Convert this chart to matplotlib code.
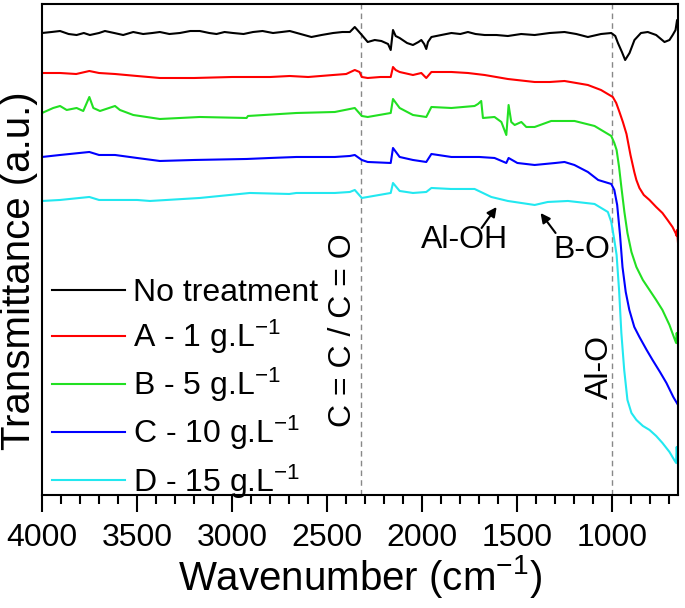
import matplotlib
matplotlib.use("Agg")
import matplotlib.pyplot as plt

plt.rcParams['font.family'] = ['Liberation Sans', 'DejaVu Sans']
plt.rcParams['mathtext.fontset'] = 'custom'
plt.rcParams['mathtext.rm'] = 'Liberation Sans'
plt.rcParams['mathtext.it'] = 'Liberation Sans:italic'

# FTIR spectra (offset, arbitrary units)
wn_none = [4000, 3950, 3905, 3860, 3818, 3780, 3748, 3700, 3669, 3620, 3573, 3520, 3468, 3420, 3380,
           3330, 3275, 3220, 3170, 3120, 3082, 3040, 2995, 2940, 2890, 2840, 2785, 2740, 2697, 2640,
           2583, 2530, 2469, 2420, 2381, 2355, 2318, 2287, 2250, 2215, 2180, 2166, 2160, 2154, 2140,
           2119, 2080, 2049, 2020, 2005, 1990, 1979, 1970, 1952, 1900, 1847, 1800, 1760, 1720, 1672,
           1610, 1550, 1480, 1409, 1330, 1252, 1190, 1129, 1060, 1006, 985, 971, 950, 933, 910,
           884, 850, 814, 770, 726, 700, 683, 668, 660, 655]
t_none = [462, 463, 464, 461, 460, 462, 460, 462, 464, 462, 460, 463, 461, 462, 463,
          461, 462, 464, 464, 462, 461, 463, 462, 461, 463, 464, 462, 463, 464, 461,
          458, 460, 462, 463, 463, 468, 460, 453, 455, 454, 451, 445, 455, 465, 459,
          457, 452, 450, 453, 455, 451, 446, 453, 458, 460, 462, 461, 463, 461, 460,
          460, 459, 461, 460, 462, 463, 461, 458, 461, 462, 459, 452, 443, 435, 442,
          455, 462, 463, 460, 453, 455, 460, 465, 475, 470]

wn_a = [4000, 3905, 3820, 3751, 3700, 3616, 3500, 3380, 3200, 3000, 2800, 2697, 2600, 2469, 2400,
        2355, 2330, 2318, 2287, 2220, 2166, 2154, 2140, 2119, 2049, 2005, 1979, 1952, 1847, 1760,
        1672, 1550, 1409, 1330, 1252, 1190, 1129, 1060, 998, 980, 963, 945, 926, 905, 885,
        874, 858, 835, 805, 770, 737, 710, 684, 668, 662, 660, 655]
t_a = [422, 422, 421, 424, 422, 421, 419, 417, 417, 418, 418, 419, 418, 420, 421,
       425, 423, 418, 417, 418, 418, 428, 425, 423, 420, 422, 417, 423, 423, 422,
       420, 416, 413, 413, 414, 412, 410, 405, 398, 392, 383, 373, 361, 340, 323,
       315, 307, 300, 295, 288, 282, 275, 268, 262, 259, 265, 252]

wn_b = [4000, 3941, 3905, 3870, 3818, 3783, 3751, 3730, 3695, 3616, 3590, 3520, 3380, 3170, 2924,
        2917, 2662, 2460, 2381, 2355, 2318, 2287, 2166, 2154, 2119, 2049, 1979, 1952, 1847, 1725,
        1707, 1690, 1681, 1620, 1584, 1558, 1546, 1532, 1514, 1479, 1453, 1409, 1322, 1199, 1094,
        1006, 990, 978, 965, 953, 937, 921, 900, 874, 840, 805, 770, 737, 700, 675,
        665, 662, 658, 655]
t_b = [382, 387, 389, 385, 387, 384, 398, 387, 384, 389, 385, 380, 376, 378, 377,
       379, 382, 383, 386, 387, 379, 378, 382, 396, 387, 380, 378, 388, 387, 389,
       391, 394, 377, 378, 373, 360, 390, 373, 370, 373, 368, 368, 374, 374, 369,
       359, 352, 345, 328, 308, 283, 262, 243, 228, 215, 205, 195, 185, 170, 157,
       152, 162, 155, 150]

wn_c = [4000, 3905, 3751, 3700, 3616, 3500, 3380, 3200, 2924, 2800, 2662, 2460, 2381, 2355, 2318,
        2287, 2166, 2154, 2119, 2049, 1979, 1952, 1847, 1700, 1620, 1558, 1546, 1500, 1409, 1300,
        1252, 1200, 1129, 1075, 1006, 990, 975, 960, 947, 930, 911, 885, 858, 820, 789,
        750, 716, 680, 655]
t_c = [338, 340, 343, 340, 340, 337, 334, 335, 336, 337, 338, 338, 339, 340, 335,
       333, 332, 347, 338, 335, 333, 341, 338, 338, 337, 332, 337, 332, 330, 332,
       333, 330, 323, 315, 311, 305, 290, 260, 228, 203, 185, 168, 158, 145, 135,
       123, 112, 98, 90]

wn_d = [4000, 3905, 3751, 3700, 3500, 3432, 3170, 2907, 2700, 2662, 2460, 2381, 2355, 2318, 2287,
        2166, 2154, 2119, 2049, 1979, 1952, 1850, 1725, 1637, 1550, 1409, 1340, 1234, 1094, 1024,
        1006, 990, 978, 965, 953, 938, 921, 900, 874, 840, 805, 770, 737, 700, 675,
        665, 662, 658, 655]
t_d = [294, 295, 298, 295, 295, 294, 297, 302, 301, 302, 302, 303, 305, 297, 298,
       302, 312, 304, 302, 303, 307, 306, 306, 298, 294, 290, 293, 294, 291, 283,
       273, 255, 240, 205, 162, 125, 95, 82, 75, 69, 65, 59, 52, 43, 35,
       32, 48, 37, 30]

labels = ['No treatment', 'A - 1 g.L$^{-1}$', 'B - 5 g.L$^{-1}$',
          'C - 10 g.L$^{-1}$', 'D - 15 g.L$^{-1}$']
colors = ['black', '#ff0000', '#22e022', '#0000ff', '#22e8f0']
bands = [2320, 1000]

fig = plt.figure(figsize=(6.85, 6.08), dpi=100)
ax = fig.add_axes([0.0613, 0.186, 0.9285, 0.8074])

series = [(wn_none, t_none), (wn_a, t_a), (wn_b, t_b), (wn_c, t_c), (wn_d, t_d)]
for (x, y), lab, col in zip(series, labels, colors):
    ax.plot(x, y, color=col, lw=1.5, label=lab)

for b in bands:
    ax.axvline(b, color='#888888', lw=1, ls=(0, (4, 3)), zorder=0)

ax.set_xlim(4000, 655)
ax.set_ylim(0, 491)
ax.set_xticks([4000, 3500, 3000, 2500, 2000, 1500, 1000])
ax.set_xticks(range(4000, 650, -100), minor=True)
ax.set_yticks([])
ax.tick_params(axis='x', which='major', direction='out', length=12, width=1.5,
               labelsize=23, pad=8)
ax.tick_params(axis='x', which='minor', direction='out', length=6.5, width=1.5)
for s in ax.spines.values():
    s.set_linewidth(1.5)

ax.set_xlabel('Wavenumber (cm$^{-1}$)', fontsize=29, labelpad=0)
ax.set_ylabel('Transmittance (a.u.)', fontsize=29)
ax.yaxis.set_label_coords(-0.006, 0.456)

ax.text(2418, 165, 'C = C / C = O', rotation=90, fontsize=23, ha='center', va='center')
ax.text(1068, 128, 'Al-O', rotation=90, fontsize=23, ha='center', va='center')
ax.text(1777, 255, 'Al-OH', fontsize=23, ha='center', va='center')
ax.text(1162, 245, 'B-O', fontsize=23, ha='center', va='center')
arrow = dict(arrowstyle='-|>', color='black', lw=1.5, mutation_scale=14, shrinkA=0, shrinkB=0)
ax.annotate('', xy=(1609, 288), xytext=(1688, 267), arrowprops=arrow)
ax.annotate('', xy=(1378, 282), xytext=(1299, 262), arrowprops=arrow)

ax.legend(loc='lower left', bbox_to_anchor=(0.011, -0.018), frameon=False, fontsize=23,
          handlelength=2.28, handletextpad=0.25, labelspacing=0.31,
          borderaxespad=0, borderpad=0.1)

fig.savefig('out.png', dpi=100)
